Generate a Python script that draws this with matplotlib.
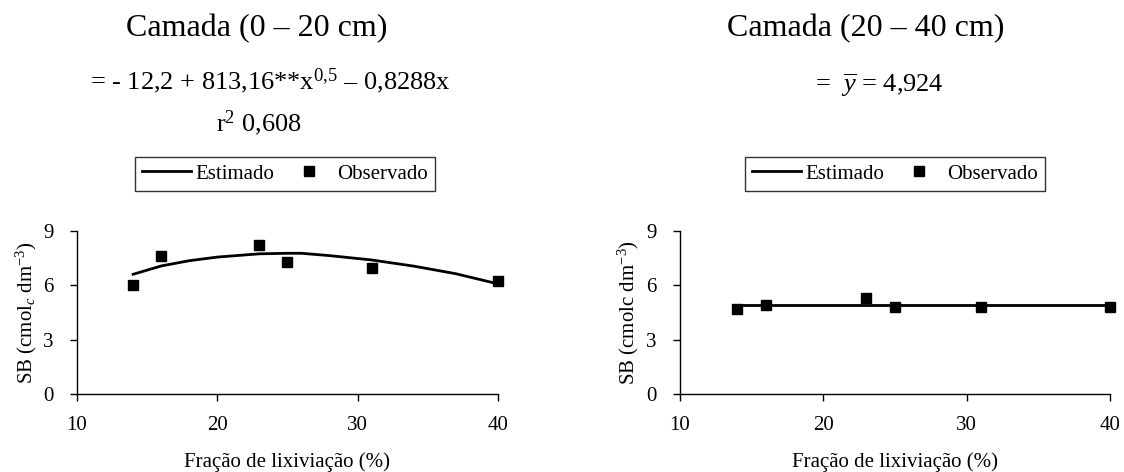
import matplotlib.pyplot as plt

plt.rcParams['font.family'] = ['Liberation Serif', 'DejaVu Serif']
plt.rcParams['mathtext.fontset'] = 'custom'
plt.rcParams['mathtext.rm'] = 'Liberation Serif'
plt.rcParams['mathtext.it'] = 'Liberation Serif:italic'

# observed points
x_obs = [14, 16, 23, 25, 31, 40]
sb_0_20 = [6.01, 7.64, 8.23, 7.27, 6.94, 6.25]
sb_20_40 = [4.68, 4.89, 5.29, 4.78, 4.83, 4.83]

# estimated curves
x_est = [14, 16, 18, 20, 23, 25, 26, 28, 31, 34, 37, 40]
est_0_20 = [6.61, 7.07, 7.36, 7.56, 7.74, 7.77, 7.77, 7.64, 7.40, 7.06, 6.64, 6.08]
x_mean = [14, 40]
est_20_40 = [4.924, 4.924]

xticks = [10, 20, 30, 40]
yticks = [0, 3, 6, 9]

W, H = 1124, 472
fig = plt.figure(figsize=(W / 100, H / 100), dpi=100)
fig.patch.set_facecolor('white')

panels = [
    dict(x0=77, x1=498, y=sb_0_20, xe=x_est, ye=est_0_20,
         ylabel='SB (cmol$_c$ dm$^{-3}$)', ylx=26, title='Camada (0 – 20 cm)',
         tx=257, eq='= - 12,2 + 813,16**x$^{0{,}5}$ – 0,8288x', eqx=270, eqy=81,
         r2='r$^2$ 0,608', r2x=259, legx=285),
    dict(x0=680, x1=1110, y=sb_20_40, xe=x_mean, ye=est_20_40,
         ylabel='SB (cmolc dm$^{-3}$)', ylx=628, title='Camada (20 – 40 cm)',
         tx=866, eq='=  $\\overline{y}$ = 4,924', eqx=879, eqy=85,
         r2=None, r2x=None, legx=895),
]

y_top, y_bot = 231, 394
for p in panels:
    w = p['x1'] - p['x0']
    ax = fig.add_axes([p['x0'] / W, 1 - y_bot / H, w / W, (y_bot - y_top) / H])
    ax.plot(p['xe'], p['ye'], color='black', lw=2, label='Estimado')
    ax.plot(x_obs, p['y'], 's', color='black', ms=7, label='Observado', clip_on=False)
    ax.set_xlim(10, 40)
    ax.set_ylim(0, 9)
    ax.set_xticks(xticks)
    ax.set_yticks(yticks)
    for s in ['top', 'right']:
        ax.spines[s].set_visible(False)
    for s in ['left', 'bottom']:
        ax.spines[s].set_linewidth(1)
    ax.tick_params(direction='out', length=5, width=1, labelsize=15)
    ax.tick_params(axis='x', pad=11)
    ax.tick_params(axis='y', pad=12)
    ax.set_xlabel('Fração de lixiviação (%)', fontsize=15)
    ax.xaxis.label.set_va('baseline')
    ax.xaxis.set_label_coords(0.5, -(467 - y_bot) / (y_bot - y_top))
    ax.set_ylabel(p['ylabel'], fontsize=15)
    ax.yaxis.label.set_va('center')
    ax.yaxis.set_label_coords((p['ylx'] - p['x0']) / w, 0.5)

    fig.text(p['tx'] / W, 1 - 29 / H, p['title'], fontsize=23, ha='center', va='center')
    fig.text(p['eqx'] / W, 1 - p['eqy'] / H, p['eq'], fontsize=19, ha='center', va='center')
    if p['r2']:
        fig.text(p['r2x'] / W, 1 - 123 / H, p['r2'], fontsize=19, ha='center', va='center')

    leg = ax.legend(loc='center', bbox_to_anchor=(p['legx'] / W, 1 - 174 / H),
                    bbox_transform=fig.transFigure, ncol=2, frameon=True,
                    fancybox=False, fontsize=15, handlelength=2.35,
                    handletextpad=0.2, columnspacing=0.5, borderpad=0.35,
                    borderaxespad=0)
    leg.get_frame().set_edgecolor('black')
    leg.get_frame().set_linewidth(1)

plt.savefig('out.png', dpi=100, facecolor='white')
